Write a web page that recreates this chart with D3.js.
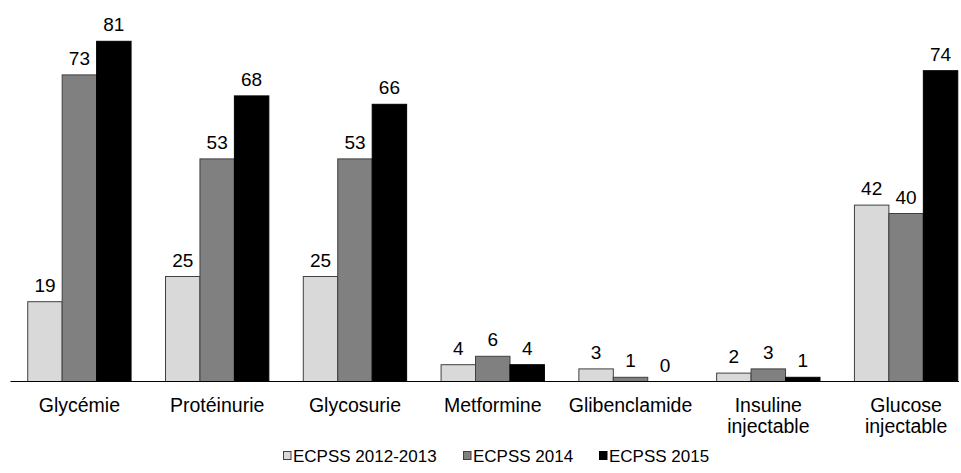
<!DOCTYPE html>
<html><head><meta charset="utf-8">
<script src="https://cdn.jsdelivr.net/npm/d3@7"></script>
<style>body{margin:0;background:#fff}svg{display:block}text{font-family:"Liberation Sans",Arial,sans-serif;fill:#000}</style>
</head><body><svg id="c" width="961" height="473"></svg>
<script>
const categories = [["Glycémie"],["Protéinurie"],["Glycosurie"],["Metformine"],["Glibenclamide"],["Insuline","injectable"],["Glucose","injectable"]];
const seriesNames = ["ECPSS 2012-2013","ECPSS 2014","ECPSS 2015"];
const s2012 = [19,25,25,4,3,2,42];
const s2014 = [73,53,53,6,1,3,40];
const s2015 = [81,68,66,4,0,1,74];
const colors = ["#d9d9d9","#808080","#000000"];
const series = [s2012,s2014,s2015];

const svg = d3.select("#c");
const x0 = d3.scaleBand().domain(d3.range(categories.length)).range([10.5, 975]).paddingInner(0.25).paddingOuter(0.125);
const x1 = d3.scaleBand().domain(d3.range(series.length)).range([0, x0.bandwidth()]);
const y = d3.scaleLinear().domain([0, 90]).range([381.5, 3.5]);

const g = svg.append("g");
series.forEach((vals, si) => {
  g.selectAll(null).data(vals).enter().append("rect")
    .attr("x", (d,i) => x0(i) + x1(si))
    .attr("y", d => y(d))
    .attr("width", x1.bandwidth())
    .attr("height", d => y(0) - y(d))
    .attr("fill", colors[si])
    .attr("stroke", d => d > 0 ? (si === 2 ? "#000" : "#404040") : "none")
    .attr("stroke-width", 1);
  g.selectAll(null).data(vals).enter().append("text")
    .attr("x", (d,i) => x0(i) + x1(si) + x1.bandwidth()/2)
    .attr("y", d => y(d) - 10)
    .attr("text-anchor", "middle")
    .attr("font-size", 19)
    .text(d => d);
});

// axis
const axis = d3.axisBottom(x0).tickSize(0).tickFormat("");
const ax = svg.append("g").attr("transform", `translate(0,${y(0)})`).call(axis);
ax.select(".domain").attr("d", `M10.5,0H959`).attr("stroke", "#000").attr("stroke-width", 1.2);

// category labels
categories.forEach((lines, i) => {
  const t = svg.append("text").attr("text-anchor", "middle").attr("font-size", 19.5)
    .attr("x", x0(i) + x0.bandwidth()/2).attr("y", 411.5);
  lines.forEach((l, k) => t.append("tspan").attr("x", x0(i) + x0.bandwidth()/2).attr("dy", k ? 21.5 : 0).text(l));
});

// legend
const legX = [283.5, 463.5, 599.5];
seriesNames.forEach((n, i) => {
  svg.append("rect").attr("x", legX[i]).attr("y", 451.5).attr("width", 7.5).attr("height", 8)
    .attr("fill", colors[i]).attr("stroke", i === 2 ? "#000" : "#404040").attr("stroke-width", 1);
  svg.append("text").attr("x", legX[i] + 9.5).attr("y", 462).attr("font-size", 17).text(n);
});
</script></body></html>
